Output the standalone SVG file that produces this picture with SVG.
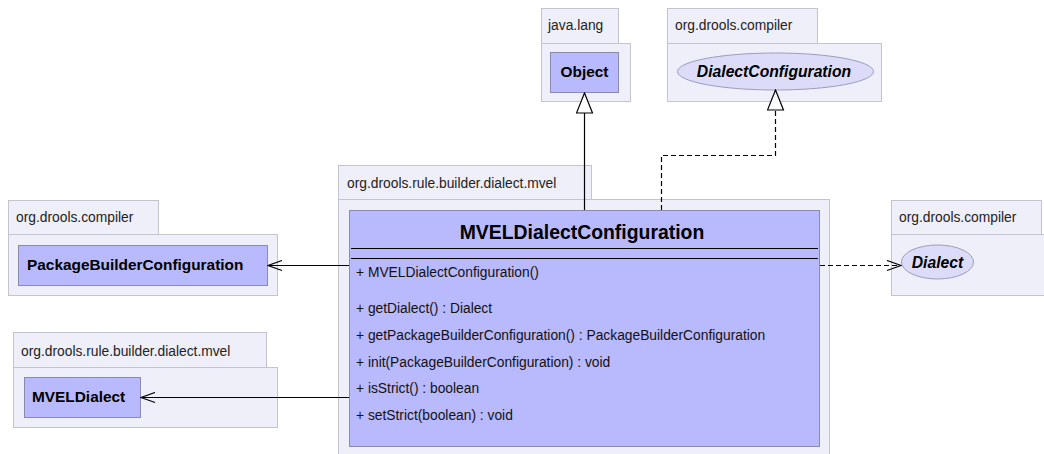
<svg xmlns="http://www.w3.org/2000/svg" width="1044" height="454" viewBox="0 0 1044 454">
  <style>
    .pkg { fill: #efeff9; stroke: #c4c4d0; stroke-width: 1; }
    .cls { fill: #b9b9fd; stroke: #8a8ab0; stroke-width: 1; }
    .ifc { fill: #dcdcf8; stroke: #9c9cc0; stroke-width: 1; }
    .pkgname { font-family: "Liberation Sans", Arial, sans-serif; font-size: 13.8px; fill: #222; }
    .clsname { font-family: "Liberation Sans", Arial, sans-serif; font-size: 15.4px; font-weight: bold; fill: #000; }
    .ifcname { font-family: "Liberation Sans", Arial, sans-serif; font-size: 15.7px; font-weight: bold; font-style: italic; fill: #000; }
    .title { font-family: "Liberation Sans", Arial, sans-serif; font-size: 19.4px; font-weight: bold; fill: #000; }
    .member { font-family: "Liberation Sans", Arial, sans-serif; font-size: 13.8px; fill: #111; }
    .sep { stroke: #000; stroke-width: 1; }
    .edge { fill: none; stroke: #000; stroke-width: 1.2; }
    .dashed { stroke-dasharray: 5 3; }
  </style>
  <defs>
    <marker id="open" viewBox="0 0 16 12" refX="15" refY="6" markerWidth="16" markerHeight="12" markerUnits="userSpaceOnUse" orient="auto">
      <path d="M1,1 L15,6 L1,11" fill="none" stroke="#000" stroke-width="1.2"/>
    </marker>
    <marker id="gen" viewBox="0 0 22 18" refX="21" refY="9" markerWidth="22" markerHeight="18" markerUnits="userSpaceOnUse" orient="auto">
      <path d="M1,1 L21,9 L1,17 Z" fill="#fff" stroke="#000" stroke-width="1.2"/>
    </marker>
  </defs>

  <!-- package java.lang -->
  <g id="pkg-java-lang">
    <rect class="pkg" x="541.5" y="8.5" width="77" height="35"/>
    <rect class="pkg" x="541.5" y="43.5" width="89" height="58"/>
    <text class="pkgname" x="548" y="30">java.lang</text>
  </g>
  <g id="Object">
    <rect class="cls" x="550.5" y="52.5" width="68" height="40"/>
    <text class="clsname" x="584.5" y="77" text-anchor="middle">Object</text>
  </g>

  <!-- package org.drools.compiler (top) -->
  <g id="pkg-compiler-top">
    <rect class="pkg" x="667.5" y="8.5" width="150" height="35"/>
    <rect class="pkg" x="667.5" y="43.5" width="214" height="58"/>
    <text class="pkgname" x="675" y="30">org.drools.compiler</text>
  </g>
  <g id="DialectConfiguration">
    <ellipse class="ifc" cx="775.5" cy="71.5" rx="98" ry="18.5"/>
    <text class="ifcname" x="774" y="77" text-anchor="middle">DialectConfiguration</text>
  </g>

  <!-- package org.drools.compiler (left) -->
  <g id="pkg-compiler-left">
    <rect class="pkg" x="8.5" y="200.5" width="150" height="34"/>
    <rect class="pkg" x="8.5" y="234.5" width="269" height="61"/>
    <text class="pkgname" x="16" y="222">org.drools.compiler</text>
  </g>
  <g id="PackageBuilderConfiguration">
    <rect class="cls" x="18.5" y="245.5" width="249" height="40"/>
    <text class="clsname" x="27" y="270">PackageBuilderConfiguration</text>
  </g>

  <!-- package org.drools.rule.builder.dialect.mvel (left) -->
  <g id="pkg-mvel-left">
    <rect class="pkg" x="13.5" y="332.5" width="253" height="35"/>
    <rect class="pkg" x="13.5" y="367.5" width="264" height="60"/>
    <text class="pkgname" x="21" y="356">org.drools.rule.builder.dialect.mvel</text>
  </g>
  <g id="MVELDialect">
    <rect class="cls" x="24.5" y="377.5" width="116" height="40"/>
    <text class="clsname" x="32" y="402">MVELDialect</text>
  </g>

  <!-- package org.drools.compiler (right) -->
  <g id="pkg-compiler-right">
    <rect class="pkg" x="891.5" y="200.5" width="150" height="34"/>
    <rect class="pkg" x="891.5" y="234.5" width="160" height="61"/>
    <text class="pkgname" x="899" y="222">org.drools.compiler</text>
  </g>
  <g id="Dialect">
    <ellipse class="ifc" cx="937.5" cy="262" rx="36" ry="17"/>
    <text class="ifcname" x="937.5" y="267.5" text-anchor="middle">Dialect</text>
  </g>

  <!-- package org.drools.rule.builder.dialect.mvel (main) -->
  <g id="pkg-mvel-main">
    <rect class="pkg" x="338.5" y="165.5" width="253" height="34"/>
    <rect class="pkg" x="338.5" y="199.5" width="491" height="262"/>
    <text class="pkgname" x="347" y="188">org.drools.rule.builder.dialect.mvel</text>
  </g>
  <g id="MVELDialectConfiguration">
    <rect class="cls" x="349.5" y="210.5" width="470" height="236"/>
    <text class="title" x="582" y="239" text-anchor="middle">MVELDialectConfiguration</text>
    <line class="sep" x1="351" y1="248.5" x2="818" y2="248.5"/>
    <line class="sep" x1="351" y1="258.5" x2="818" y2="258.5"/>
    <text class="member" x="356" y="277">+ MVELDialectConfiguration()</text>
    <text class="member" x="356" y="313">+ getDialect() : Dialect</text>
    <text class="member" x="356" y="340">+ getPackageBuilderConfiguration() : PackageBuilderConfiguration</text>
    <text class="member" x="356" y="367">+ init(PackageBuilderConfiguration) : void</text>
    <text class="member" x="356" y="393">+ isStrict() : boolean</text>
    <text class="member" x="356" y="420">+ setStrict(boolean) : void</text>
  </g>

  <!-- connectors -->
  <g id="connectors">
    <path class="edge" d="M584.5,210 L584.5,93" marker-end="url(#gen)"/>
    <path class="edge dashed" d="M661.5,210 L661.5,155.5 L775.5,155.5 L775.5,90" marker-end="url(#gen)"/>
    <path class="edge" d="M349,265.5 L268,265.5" marker-end="url(#open)"/>
    <path class="edge" d="M349,397.5 L141,397.5" marker-end="url(#open)"/>
    <path class="edge dashed" d="M820,265.5 L901,265.5" marker-end="url(#open)"/>
  </g>
</svg>
